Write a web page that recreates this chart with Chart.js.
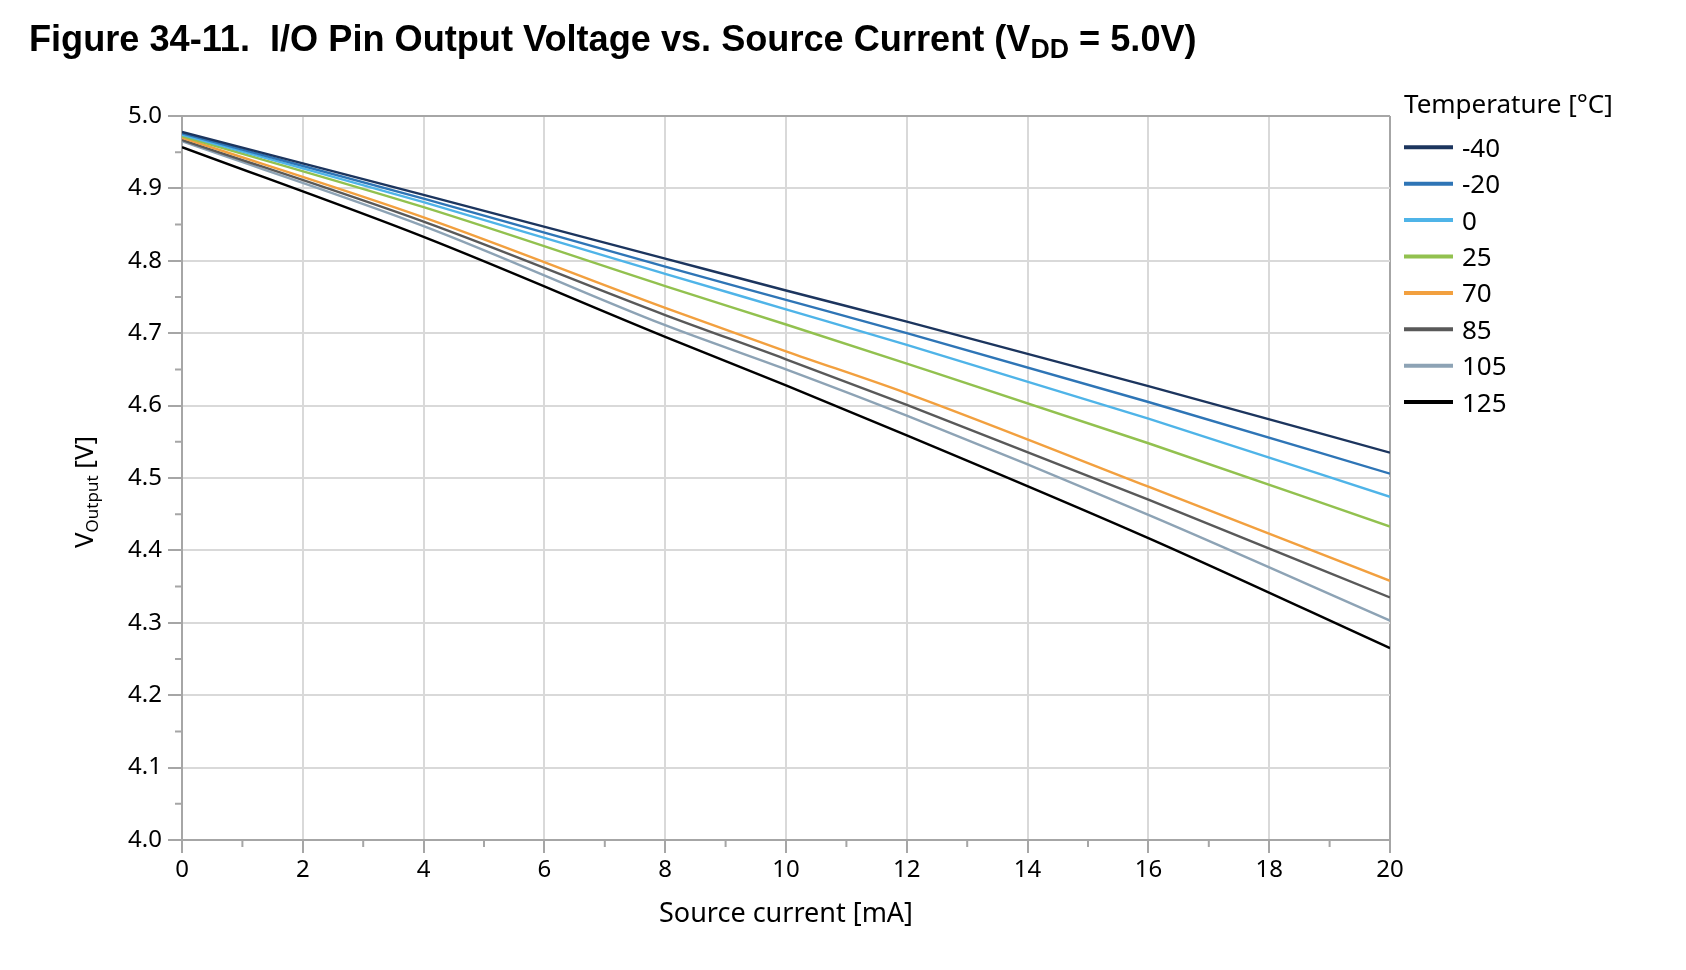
<!DOCTYPE html>
<html><head><meta charset="utf-8">
<script src="https://cdn.jsdelivr.net/npm/chart.js@4.4.1/dist/chart.umd.min.js"></script>
<style>html,body{margin:0;padding:0;background:#fff;}#wrap{position:relative;width:1686px;height:970px;}</style>
</head><body><div id="wrap"><canvas id="c" width="1686" height="970"></canvas></div>
<script>
// ---- data ----
const currents = [0, 4, 8, 10, 12, 16, 20];           // Source current [mA]
const temperatures = ['-40', '-20', '0', '25', '70', '85', '105', '125'];
const vM40 = [4.978, 4.891, 4.803, 4.759, 4.716, 4.627, 4.535];
const vM20 = [4.976, 4.886, 4.792, 4.746, 4.700, 4.605, 4.506];
const v0   = [4.974, 4.881, 4.782, 4.733, 4.684, 4.582, 4.474];
const v25  = [4.972, 4.874, 4.765, 4.712, 4.658, 4.548, 4.433];
const v70  = [4.970, 4.860, 4.735, 4.675, 4.617, 4.488, 4.358];
const v85  = [4.967, 4.854, 4.725, 4.664, 4.601, 4.470, 4.335];
const v105 = [4.965, 4.848, 4.711, 4.650, 4.586, 4.449, 4.303];
const v125 = [4.957, 4.833, 4.695, 4.628, 4.559, 4.417, 4.265];
const seriesValues = [vM40, vM20, v0, v25, v70, v85, v105, v125];
const colors = ['#1c355e', '#2e75b6', '#4fb4e8', '#92c14f', '#f2a03f', '#595959', '#8da3b5', '#000000'];

const titleMain = 'Figure 34-11.  I/O Pin Output Voltage vs. Source Current (V';
const titleSub = 'DD';
const titleEnd = ' = 5.0V)';
const legendTitle = 'Temperature [°C]';
const xTitle = 'Source current [mA]';
const yTitleMain = 'V', yTitleSub = 'Output', yTitleEnd = ' [V]';

const FONT = '"Noto Sans", "Open Sans", sans-serif';
const AXIS = '#a6a6a6', GRID = '#d9d9d9';

const decor = {
  id: 'decor',
  afterDraw(chart) {
    const ctx = chart.ctx, xs = chart.scales.x, ys = chart.scales.y, ca = chart.chartArea;
    ctx.save();
    // minor ticks
    ctx.strokeStyle = AXIS; ctx.lineWidth = 2;
    ctx.beginPath();
    for (let k = 0; k < 10; k++) {
      const py = ys.getPixelForValue(4.05 + k * 0.1);
      ctx.moveTo(ca.left - 7, py); ctx.lineTo(ca.left, py);
    }
    for (let k = 1; k < 20; k += 2) {
      const px = xs.getPixelForValue(k);
      ctx.moveTo(px, ca.bottom); ctx.lineTo(px, ca.bottom + 7);
    }
    ctx.stroke();

    // title
    ctx.fillStyle = '#000';
    ctx.textBaseline = 'alphabetic';
    ctx.textAlign = 'left';
    const fam = '"Liberation Sans", Arial, sans-serif';
    const parts = [[titleMain, 1, 0], [titleSub, 0.74, 0.2], [titleEnd, 1, 0]];
    let tot = 0;
    parts.forEach(p => { ctx.font = `bold ${100 * p[1]}px ${fam}`; tot += ctx.measureText(p[0]).width; });
    const size = 100 * 1168 / tot;
    let tx = 29;
    parts.forEach(p => {
      ctx.font = `bold ${size * p[1]}px ${fam}`;
      ctx.fillText(p[0], tx, 51 + size * p[2]);
      tx += ctx.measureText(p[0]).width;
    });

    // x title
    ctx.font = `27px ${FONT}`;
    ctx.textAlign = 'center'; ctx.textBaseline = 'middle';
    ctx.fillText(xTitle, (ca.left + ca.right) / 2, 914);

    // y title
    ctx.save();
    ctx.translate(84, 492); ctx.rotate(-Math.PI / 2);
    ctx.textAlign = 'left'; ctx.textBaseline = 'alphabetic';
    const yp = [[yTitleMain, 26, 0], [yTitleSub, 17, 5], [yTitleEnd, 26, 0]];
    let w = 0;
    yp.forEach(p => { ctx.font = `${p[1]}px ${FONT}`; w += ctx.measureText(p[0]).width; });
    let yx = -w / 2;
    yp.forEach(p => {
      ctx.font = `${p[1]}px ${FONT}`;
      ctx.fillText(p[0], yx, 9 + p[2]);
      yx += ctx.measureText(p[0]).width;
    });
    ctx.restore();

    // legend
    ctx.textAlign = 'left'; ctx.textBaseline = 'alphabetic';
    ctx.font = `26px ${FONT}`;
    ctx.fillText(legendTitle, 1404, 113);
    ctx.font = `26px ${FONT}`;
    ctx.textBaseline = 'middle';
    chart.data.datasets.forEach((ds, i) => {
      const yy = 147.3 + i * 36.4;
      ctx.strokeStyle = ds.borderColor; ctx.lineWidth = 4;
      ctx.beginPath(); ctx.moveTo(1404, yy); ctx.lineTo(1453, yy); ctx.stroke();
      ctx.fillText(ds.label, 1462, yy + 2);
    });
    ctx.restore();
  }
};

new Chart(document.getElementById('c'), {
  type: 'line',
  data: {
    datasets: temperatures.map((t, i) => ({
      label: t,
      data: currents.map((c, j) => ({ x: c, y: seriesValues[i][j] })),
      borderColor: colors[i],
      backgroundColor: colors[i],
      borderWidth: 2.4,
      pointRadius: 0,
      cubicInterpolationMode: 'monotone',
      fill: false
    }))
  },
  options: {
    responsive: false, animation: false, devicePixelRatio: 1,
    layout: { padding: { top: 116, right: 296, left: 0, bottom: 0 } },
    plugins: { legend: { display: false }, tooltip: { enabled: false }, title: { display: false } },
    scales: {
      x: {
        type: 'linear', min: 0, max: 20,
        ticks: { stepSize: 2, color: '#000', font: { family: FONT, size: 24 }, padding: 3, maxRotation: 0 },
        grid: { color: c => (c.tick && c.tick.value === 20) ? AXIS : GRID, lineWidth: 2, tickLength: 13, tickColor: AXIS },
        border: { color: AXIS, width: 2 },
        afterFit(s) { s.height = 130; }
      },
      y: {
        min: 4, max: 5,
        ticks: { stepSize: 0.1, color: '#000', font: { family: FONT, size: 24 }, padding: 6, callback: v => Number(v).toFixed(1) },
        grid: { color: c => (c.tick && Math.abs(c.tick.value - 5) < 1e-6) ? AXIS : GRID, lineWidth: 2, tickLength: 14, tickColor: AXIS },
        border: { color: AXIS, width: 2 },
        afterFit(s) { s.width = 182; }
      }
    }
  },
  plugins: [decor]
});
</script>
</body></html>
